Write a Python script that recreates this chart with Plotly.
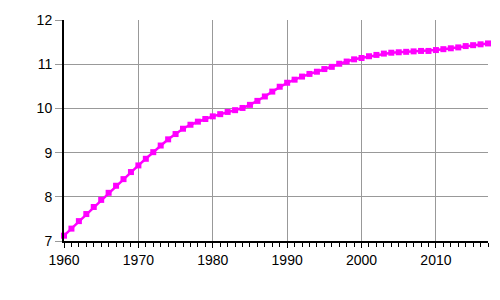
import plotly.graph_objects as go

years = list(range(1960, 2018))
values = [7.12, 7.28, 7.45, 7.61, 7.77, 7.93, 8.09, 8.25, 8.40, 8.56,
          8.71, 8.86, 9.01, 9.16, 9.30, 9.42, 9.54, 9.63, 9.70, 9.76,
          9.82, 9.87, 9.92, 9.96, 10.01, 10.08, 10.17, 10.27, 10.38, 10.49,
          10.58, 10.65, 10.72, 10.78, 10.83, 10.89, 10.94, 11.01, 11.06, 11.11,
          11.14, 11.18, 11.21, 11.24, 11.26, 11.27, 11.28, 11.29, 11.30, 11.30,
          11.32, 11.34, 11.36, 11.38, 11.41, 11.43, 11.45, 11.47]
x_ticks = [1960, 1970, 1980, 1990, 2000, 2010]
y_ticks = [7, 8, 9, 10, 11, 12]

fig = go.Figure()
fig.add_trace(go.Scatter(
    x=years, y=values, mode="lines+markers",
    line=dict(color="#ff00ff", width=2.5),
    marker=dict(symbol="square", size=6, color="#ff00ff"),
    showlegend=False, cliponaxis=False,
))

font = dict(family="Liberation Sans, Arial, sans-serif", size=14, color="black")
fig.update_layout(
    width=500, height=300,
    margin=dict(l=64, r=12, t=15, b=59),
    paper_bgcolor="white", plot_bgcolor="white",
    font=font,
)
fig.update_xaxes(
    range=[1960, 2017], tickvals=x_ticks, ticktext=[str(v) for v in x_ticks],
    showgrid=True, gridcolor="#999999", gridwidth=1,
    showline=True, linecolor="black", linewidth=2,
    ticks="outside", ticklen=5, tickcolor="black", tickwidth=1,
    minor=dict(dtick=1, ticks="outside", ticklen=4, tickcolor="black", tickwidth=1, showgrid=False),
    zeroline=False, tickfont=font,
)
fig.update_yaxes(
    range=[7, 12], tickvals=y_ticks, ticktext=[str(v) for v in y_ticks],
    showgrid=True, gridcolor="#999999", gridwidth=1,
    showline=True, linecolor="black", linewidth=2,
    ticks="outside", ticklen=7, tickcolor="#999999", tickwidth=1,
    zeroline=False, tickfont=font,
)
fig.write_html("out.html")
